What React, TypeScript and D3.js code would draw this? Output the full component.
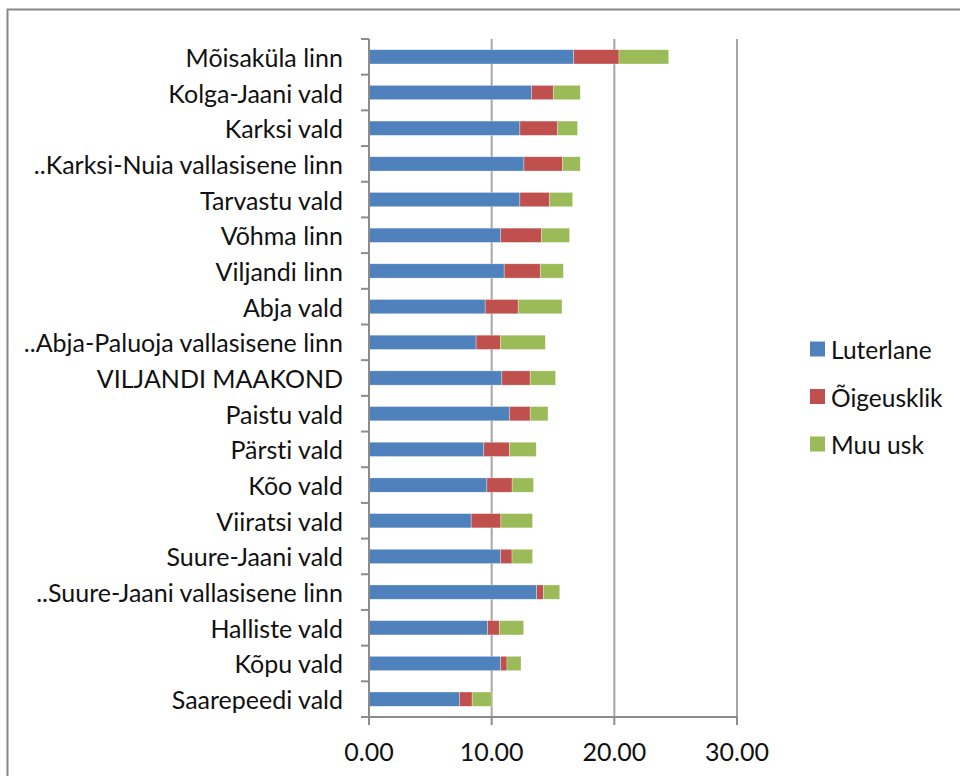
import React from 'react'
import { scaleBand, scaleLinear, stack } from 'd3'

// categories, top to bottom
const categories = [
  'Mõisaküla linn', 'Kolga-Jaani vald', 'Karksi vald', '..Karksi-Nuia vallasisene linn',
  'Tarvastu vald', 'Võhma linn', 'Viljandi linn', 'Abja vald', '..Abja-Paluoja vallasisene linn',
  'VILJANDI MAAKOND', 'Paistu vald', 'Pärsti vald', 'Kõo vald', 'Viiratsi vald',
  'Suure-Jaani vald', '..Suure-Jaani vallasisene linn', 'Halliste vald', 'Kõpu vald', 'Saarepeedi vald',
]
const luterlane = [16.68, 13.25, 12.3, 12.63, 12.3, 10.72, 11.02, 9.47, 8.73, 10.83, 11.45, 9.36, 9.61, 8.33, 10.73, 13.67, 9.67, 10.73, 7.38]
const oigeusklik = [3.7, 1.77, 3.05, 3.13, 2.42, 3.35, 2.94, 2.69, 1.99, 2.31, 1.69, 2.09, 2.06, 2.42, 0.93, 0.55, 0.95, 0.52, 1.03]
const muuUsk = [4.05, 2.2, 1.65, 1.46, 1.88, 2.28, 1.88, 3.57, 3.65, 2.07, 1.45, 2.18, 1.74, 2.58, 1.67, 1.33, 1.99, 1.14, 1.61]
const seriesNames = ['Luterlane', 'Õigeusklik', 'Muu usk']
const colors = ['#4F81BD', '#C0504D', '#9BBB59']
const xTicks = [0, 10, 20, 30]

const W = 960
const H = 776
const font = 'Lato, "Open Sans", sans-serif'

export default function App() {
  const rows = categories.map((c, i) => ({ cat: c, s0: luterlane[i], s1: oigeusklik[i], s2: muuUsk[i] }))
  const layers = stack<any>().keys(['s0', 's1', 's2'])(rows)

  const x = scaleLinear().domain([0, 30]).range([369, 737])
  const y = scaleBand().domain(categories).range([39, 717]).paddingInner(0.6).paddingOuter(0.3)
  const step = y.step()
  const top = 39
  const bottom = 717

  return (
    <svg width={W} height={H}
      style={{ position: 'absolute', left: 0, top: 0, background: '#fff', fontVariantLigatures: 'none' }}>
      <rect x={7.5} y={9.5} width={W} height={H} fill="#fff" stroke="#888" strokeWidth={2} />
      {/* gridlines */}
      {xTicks.slice(1).map(t => (
        <line key={t} x1={x(t)} x2={x(t)} y1={top} y2={bottom} stroke="#a6a6a6" strokeWidth={2} />
      ))}
      {/* bars */}
      {layers.map((layer, k) => (
        <g key={k} fill={colors[k]}>
          {layer.map((d, i) => (
            <rect key={i} x={x(d[0])} width={x(d[1]) - x(d[0])} y={y(d.data.cat)} height={y.bandwidth()}
              stroke="#fff" strokeOpacity={0.5} strokeWidth={0.6} />
          ))}
        </g>
      ))}
      {/* y axis */}
      <line x1={369} x2={369} y1={top} y2={bottom} stroke="#8c8c8c" strokeWidth={2} />
      {categories.map((c, i) => (
        <line key={'yt' + i} x1={361} x2={369} y1={top + i * step} y2={top + i * step} stroke="#8c8c8c" strokeWidth={2} />
      ))}
      {categories.map(c => (
        <text key={c} x={343} y={(y(c) ?? 0) + y.bandwidth() / 2} textAnchor="end" dominantBaseline="central"
          fontFamily={font} fontSize={25} fill="#111">{c}</text>
      ))}
      {/* x axis */}
      <line x1={361} x2={737} y1={bottom} y2={bottom} stroke="#8c8c8c" strokeWidth={2} />
      {xTicks.map(t => (
        <g key={t}>
          <line x1={x(t)} x2={x(t)} y1={bottom} y2={bottom + 8} stroke="#8c8c8c" strokeWidth={2} />
          <text x={x(t)} y={751} textAnchor="middle" dominantBaseline="central" fontFamily={font} fontSize={25} fill="#111">
            {t.toFixed(2)}
          </text>
        </g>
      ))}
      {/* legend */}
      {seriesNames.map((n, k) => (
        <g key={n} transform={`translate(810, ${341.5 + k * 47.5})`}>
          <rect width={15} height={15} fill={colors[k]} />
          <text x={21} y={8} dominantBaseline="central" fontFamily={font} fontSize={24.5} fill="#111">{n}</text>
        </g>
      ))}
    </svg>
  )
}
